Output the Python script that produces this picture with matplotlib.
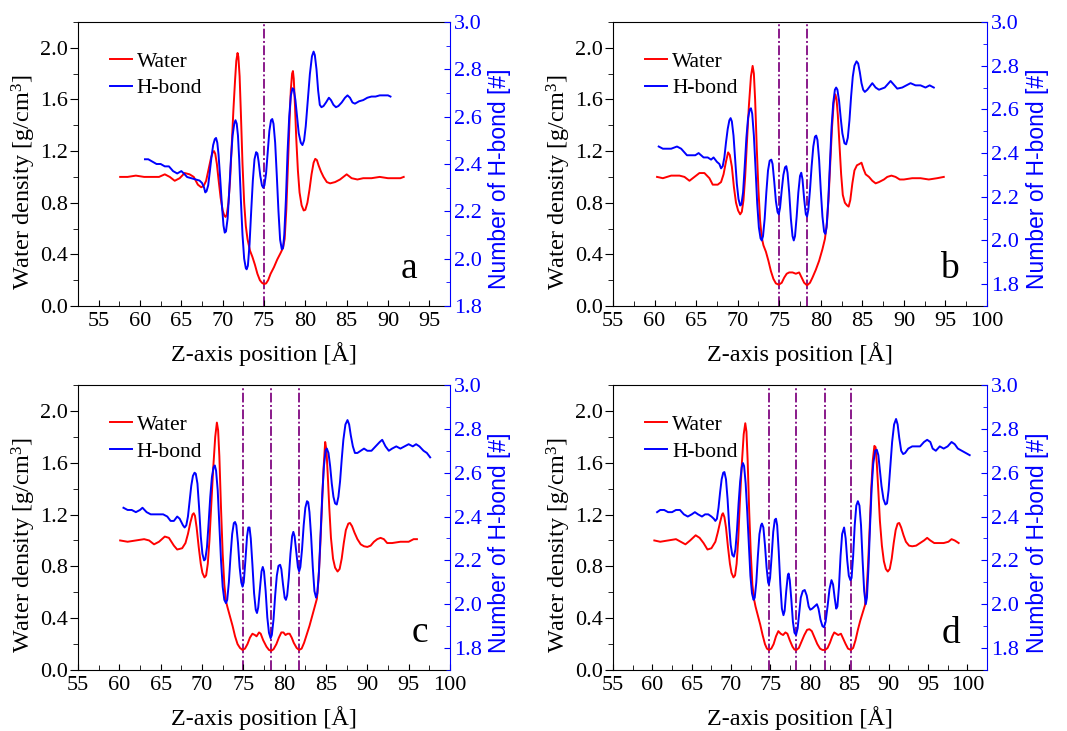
import matplotlib
matplotlib.use("Agg")
import matplotlib.pyplot as plt
from matplotlib.ticker import MultipleLocator

plt.rcParams['font.family'] = ['Liberation Serif', 'DejaVu Serif']
plt.rcParams['mathtext.fontset'] = 'custom'
plt.rcParams['mathtext.rm'] = 'Liberation Serif'
plt.rcParams['mathtext.it'] = 'Liberation Serif:italic'
plt.rcParams['mathtext.bf'] = 'Liberation Serif:bold'

# ---------------- panel a ----------------
a_water_z = [57.6, 58.5, 59.5, 60.5, 61.5, 62.3, 63.0, 63.6, 64.2, 64.8, 65.4, 66.0, 66.5,
             67.0, 67.4, 67.7, 68.0, 68.3, 68.6, 68.8, 68.95, 69.1, 69.3, 69.5, 69.75, 70.0,
             70.2, 70.35, 70.5, 70.7, 70.9, 71.1, 71.3, 71.5, 71.65, 71.8, 71.9, 72.05, 72.2,
             72.4, 72.6, 72.8, 73.0, 73.3, 73.6, 73.9, 74.2, 74.5, 74.75, 75.0, 75.25, 75.5,
             75.8, 76.2, 76.6, 77.0, 77.3, 77.5, 77.7, 77.9, 78.1, 78.25, 78.4, 78.5, 78.6,
             78.75, 78.9, 79.1, 79.3, 79.55, 79.8, 80.0, 80.25, 80.5, 80.75, 81.0, 81.2, 81.4,
             81.6, 81.9, 82.2, 82.6, 83.0, 83.6, 84.2, 84.6, 85.0, 85.6, 86.3, 87.0, 88.0,
             89.0, 90.0, 90.8, 91.5, 91.9]
a_water = [1.00, 1.00, 1.01, 1.00, 1.00, 1.00, 1.02, 1.00, 0.97, 0.99, 1.03, 1.02, 1.00,
           0.94, 0.92, 0.93, 0.97, 1.06, 1.15, 1.19, 1.20, 1.18, 1.10, 0.98, 0.84, 0.74,
           0.70, 0.69, 0.71, 0.80, 0.98, 1.25, 1.52, 1.75, 1.90, 1.96, 1.93, 1.78, 1.50,
           1.10, 0.80, 0.62, 0.52, 0.43, 0.38, 0.32, 0.25, 0.20, 0.18, 0.17, 0.175, 0.20,
           0.25, 0.30, 0.36, 0.41, 0.45, 0.52, 0.75, 1.10, 1.45, 1.68, 1.80, 1.82, 1.76,
           1.55, 1.30, 1.05, 0.88, 0.78, 0.74, 0.745, 0.80, 0.90, 1.02, 1.11, 1.14, 1.13,
           1.09, 1.04, 1.00, 0.96, 0.95, 0.96, 0.98, 1.00, 1.02, 0.99, 0.98, 0.99, 0.99,
           1.00, 0.99, 0.99, 0.99, 1.00]
a_hb_z = [60.6, 61.0, 61.5, 62.0, 62.5, 63.0, 63.5, 64.0, 64.5, 65.0, 65.3, 65.7, 66.2,
          66.7, 67.2, 67.5, 67.75, 67.9, 68.05, 68.25, 68.45, 68.65, 68.85, 69.05, 69.2,
          69.35, 69.5, 69.7, 69.9, 70.1, 70.25, 70.4, 70.6, 70.8, 71.0, 71.2, 71.4, 71.55,
          71.7, 71.85, 72.0, 72.2, 72.4, 72.6, 72.8, 72.9, 73.05, 73.25, 73.45, 73.65, 73.85,
          74.05, 74.2, 74.35, 74.55, 74.75, 74.9, 75.05, 75.25, 75.45, 75.65, 75.85, 76.0,
          76.15, 76.35, 76.55, 76.75, 76.95, 77.15, 77.3, 77.45, 77.65, 77.85, 78.05, 78.25,
          78.45, 78.6, 78.8, 79.0, 79.2, 79.45, 79.65, 79.85, 80.05, 80.3, 80.55, 80.8, 81.0,
          81.15, 81.35, 81.55, 81.75, 81.95, 82.2, 82.5, 82.85, 83.1, 83.4, 83.7, 84.0, 84.4,
          84.8, 85.1, 85.4, 85.7, 86.0, 86.5, 87.0, 87.5, 88.0, 88.5, 89.0, 89.5, 90.0, 90.3]
a_hb = [2.42, 2.42, 2.41, 2.40, 2.40, 2.39, 2.39, 2.37, 2.36, 2.37, 2.36, 2.345, 2.34,
        2.335, 2.33, 2.32, 2.30, 2.28, 2.285, 2.31, 2.37, 2.43, 2.48, 2.505, 2.51,
        2.49, 2.44, 2.34, 2.23, 2.14, 2.11, 2.115, 2.17, 2.29, 2.42, 2.52, 2.57, 2.585,
        2.57, 2.52, 2.42, 2.25, 2.10, 2.00, 1.96, 1.955, 1.97, 2.06, 2.20, 2.33, 2.42,
        2.45, 2.445, 2.41, 2.35, 2.31, 2.30, 2.31, 2.36, 2.45, 2.54, 2.585, 2.59,
        2.57, 2.49, 2.35, 2.20, 2.08, 2.04, 2.045, 2.10, 2.25, 2.45, 2.60, 2.69,
        2.72, 2.715, 2.67, 2.60, 2.53, 2.49, 2.48, 2.50, 2.56, 2.67, 2.78, 2.855, 2.875,
        2.86, 2.80, 2.71, 2.65, 2.64, 2.645, 2.66, 2.68, 2.67, 2.65, 2.64, 2.645, 2.66,
        2.68, 2.69, 2.68, 2.66, 2.655, 2.665, 2.67, 2.68, 2.685, 2.685, 2.69, 2.69, 2.69, 2.685]
a_pores = [75.0]

# ---------------- panel b ----------------
b_water_z = [60.3, 61.0, 62.0, 63.0, 63.6, 64.2, 64.8, 65.4, 66.0, 66.6, 67.0, 67.6, 68.0,
             68.3, 68.6, 68.85, 69.05, 69.3, 69.55, 69.8, 70.05, 70.3, 70.5, 70.7, 70.9, 71.1,
             71.35, 71.6, 71.8, 71.95, 72.1, 72.3, 72.5, 72.7, 72.9, 73.1, 73.4, 73.7, 74.0,
             74.3, 74.6, 74.95, 75.3, 75.6, 75.9, 76.2, 76.6, 77.0, 77.4, 77.7, 78.0, 78.35,
             78.7, 79.0, 79.4, 79.8, 80.2, 80.5, 80.75, 80.95, 81.15, 81.35, 81.55, 81.75,
             81.9, 82.05, 82.25, 82.45, 82.65, 82.9, 83.15, 83.35, 83.55, 83.8, 84.05, 84.35,
             84.65, 84.9, 85.15, 85.4, 85.8, 86.2, 86.6, 87.0, 87.6, 88.0, 88.5, 89.0, 89.5,
             90.0, 91.0, 92.0, 93.0, 94.0, 94.8]
b_water = [1.00, 0.99, 1.01, 1.01, 1.00, 0.97, 1.00, 1.03, 1.03, 0.99, 0.94, 0.94, 0.96,
           1.02, 1.12, 1.19, 1.17, 1.08, 0.92, 0.80, 0.74, 0.71, 0.73, 0.82, 1.00, 1.25,
           1.55, 1.78, 1.86, 1.80, 1.60, 1.22, 0.90, 0.66, 0.53, 0.47, 0.42, 0.35, 0.27,
           0.21, 0.175, 0.165, 0.18, 0.22, 0.25, 0.26, 0.26, 0.25, 0.26, 0.22, 0.18, 0.16,
           0.18, 0.22, 0.28, 0.35, 0.44, 0.52, 0.65, 0.85, 1.12, 1.38, 1.57, 1.64,
           1.60, 1.48, 1.25, 1.02, 0.86, 0.80, 0.78, 0.77, 0.82, 0.95, 1.05, 1.09,
           1.10, 1.11, 1.06, 1.02, 1.00, 0.97, 0.95, 0.96, 0.98, 1.00, 1.01, 1.00, 0.98,
           0.98, 0.99, 0.99, 0.98, 0.99, 1.00]
b_hb_z = [60.5, 61.0, 61.5, 62.0, 62.7, 63.2, 63.9, 64.4, 64.9, 65.3, 65.9, 66.4, 66.8,
          67.1, 67.5, 67.8, 68.0, 68.2, 68.4, 68.6, 68.8, 69.0, 69.15, 69.3, 69.5, 69.7,
          69.9, 70.1, 70.3, 70.45, 70.65, 70.85, 71.05, 71.25, 71.45, 71.6, 71.75, 71.95,
          72.15, 72.35, 72.55, 72.75, 72.9, 73.05, 73.25, 73.45, 73.65, 73.85, 74.05, 74.2,
          74.4, 74.6, 74.8, 74.95, 75.1, 75.3, 75.5, 75.7, 75.85, 76.0, 76.2, 76.4, 76.6,
          76.75, 76.9, 77.1, 77.3, 77.5, 77.65, 77.8, 78.0, 78.2, 78.35, 78.5, 78.7, 78.9,
          79.1, 79.3, 79.45, 79.6, 79.8, 80.0, 80.2, 80.4, 80.55, 80.7, 80.9, 81.1, 81.3,
          81.5, 81.7, 81.85, 82.0, 82.2, 82.4, 82.6, 82.85, 83.05, 83.25, 83.45, 83.65, 83.85,
          84.05, 84.3, 84.5, 84.7, 84.9, 85.1, 85.3, 85.6, 86.2, 86.6, 87.0, 87.7, 88.4,
          89.2, 89.8, 90.3, 90.8, 91.4, 92.0, 92.6, 93.1, 93.6]
b_hb = [2.43, 2.42, 2.42, 2.42, 2.43, 2.42, 2.39, 2.39, 2.39, 2.40, 2.38, 2.38, 2.37,
        2.38, 2.36, 2.35, 2.33, 2.34, 2.38, 2.45, 2.51, 2.55, 2.56, 2.545, 2.48, 2.37,
        2.26, 2.19, 2.16, 2.165, 2.22, 2.34, 2.47, 2.56, 2.60, 2.605, 2.58, 2.48,
        2.33, 2.17, 2.06, 2.01, 2.00, 2.02, 2.10, 2.22, 2.32, 2.365, 2.37, 2.35,
        2.27, 2.18, 2.13, 2.12, 2.15, 2.23, 2.30, 2.335, 2.34, 2.31, 2.22, 2.10, 2.02,
        2.00, 2.02, 2.11, 2.22, 2.295, 2.31, 2.28, 2.19, 2.12, 2.11, 2.14, 2.23, 2.34,
        2.43, 2.475, 2.48, 2.46, 2.37, 2.23, 2.11, 2.04, 2.03, 2.06, 2.18, 2.35, 2.52,
        2.63, 2.69, 2.70, 2.69, 2.64, 2.56, 2.49, 2.445, 2.44, 2.47, 2.55, 2.66, 2.75,
        2.80, 2.82, 2.81, 2.77, 2.72, 2.69, 2.68, 2.69, 2.72, 2.70, 2.69, 2.70, 2.73,
        2.695, 2.70, 2.71, 2.72, 2.71, 2.71, 2.70, 2.71, 2.70]
b_pores = [75.0, 78.35]

# ---------------- panel c ----------------
c_water_z = [60.1, 61.0, 62.0, 63.0, 63.6, 64.2, 64.8, 65.5, 66.0, 66.6, 67.0, 67.6, 68.0,
             68.3, 68.6, 68.85, 69.0, 69.15, 69.35, 69.6, 69.85, 70.05, 70.3, 70.5, 70.7,
             70.9, 71.1, 71.35, 71.6, 71.8, 71.95, 72.1, 72.3, 72.5, 72.7, 72.9, 73.1, 73.4,
             73.7, 74.0, 74.3, 74.6, 74.9, 75.2, 75.5, 75.8, 76.1, 76.4, 76.6, 76.9, 77.1,
             77.4, 77.8, 78.1, 78.35, 78.65, 79.0, 79.3, 79.6, 79.85, 80.1, 80.35, 80.6, 80.85,
             81.1, 81.45, 81.75, 82.05, 82.35, 82.7, 83.0, 83.3, 83.6, 83.9, 84.1, 84.3, 84.5,
             84.7, 84.9, 85.05, 85.2, 85.4, 85.6, 85.85, 86.1, 86.4, 86.65, 86.9, 87.15, 87.4,
             87.7, 87.9, 88.15, 88.45, 88.8, 89.2, 89.6, 90.0, 90.4, 90.8, 91.2, 91.6, 92.0,
             92.4, 93.0, 94.0, 95.0, 95.6, 96.0]
c_water = [1.00, 0.99, 1.00, 1.01, 1.00, 0.97, 0.99, 1.03, 1.02, 0.96, 0.93, 0.94, 0.98,
           1.05, 1.14, 1.20, 1.21, 1.19, 1.10, 0.95, 0.82, 0.75, 0.715, 0.73, 0.82,
           1.00, 1.25, 1.55, 1.80, 1.91, 1.85, 1.65, 1.25, 0.90, 0.66, 0.53, 0.48, 0.41,
           0.34, 0.26, 0.20, 0.17, 0.155, 0.165, 0.20, 0.25, 0.28, 0.27, 0.26, 0.29, 0.28,
           0.23, 0.18, 0.155, 0.148, 0.16, 0.20, 0.25, 0.29, 0.29, 0.27, 0.28, 0.28, 0.25,
           0.21, 0.17, 0.155, 0.165, 0.21, 0.28, 0.34, 0.41, 0.48, 0.55, 0.70, 0.95, 1.25,
           1.55, 1.76, 1.70, 1.52, 1.25, 1.02, 0.86, 0.79, 0.76, 0.78, 0.86, 0.98, 1.08,
           1.13, 1.135, 1.11, 1.06, 1.01, 0.97, 0.955, 0.95, 0.96, 0.99, 1.01, 1.02, 1.01,
           0.98, 0.98, 0.99, 0.99, 1.01, 1.01]
c_hb_z = [60.5, 61.0, 61.5, 62.0, 62.5, 62.8, 63.3, 63.8, 64.3, 64.8, 65.3, 65.8, 66.2,
          66.6, 67.0, 67.3, 67.7, 67.9, 68.1, 68.3, 68.5, 68.7, 68.9, 69.1, 69.25, 69.45,
          69.65, 69.85, 70.05, 70.25, 70.4, 70.6, 70.8, 71.0, 71.2, 71.4, 71.55, 71.7, 71.9,
          72.1, 72.3, 72.5, 72.7, 72.9, 73.05, 73.25, 73.45, 73.65, 73.85, 74.0, 74.15, 74.35,
          74.55, 74.75, 74.9, 75.05, 75.25, 75.45, 75.6, 75.75, 75.9, 76.1, 76.3, 76.5, 76.65,
          76.8, 77.0, 77.2, 77.35, 77.5, 77.7, 77.9, 78.1, 78.3, 78.45, 78.65, 78.85, 79.05,
          79.25, 79.45, 79.6, 79.8, 80.0, 80.15, 80.3, 80.5, 80.7, 80.9, 81.05, 81.2, 81.4,
          81.6, 81.75, 81.9, 82.1, 82.3, 82.5, 82.7, 82.85, 83.0, 83.2, 83.4, 83.6, 83.8,
          83.95, 84.15, 84.35, 84.55, 84.75, 84.95, 85.1, 85.3, 85.5, 85.7, 85.9, 86.1, 86.3,
          86.5, 86.7, 86.9, 87.1, 87.35, 87.6, 87.8, 88.0, 88.25, 88.5, 88.8, 89.2, 89.6,
          90.0, 90.5, 91.0, 91.5, 91.8, 92.2, 92.6, 93.0, 93.5, 94.0, 94.5, 95.0, 95.5, 95.9,
          96.3, 96.8, 97.2, 97.6]
c_hb = [2.44, 2.43, 2.43, 2.42, 2.43, 2.44, 2.42, 2.41, 2.41, 2.41, 2.41, 2.40, 2.38,
        2.38, 2.40, 2.39, 2.36, 2.35, 2.36, 2.40, 2.47, 2.54, 2.585, 2.60, 2.595, 2.55,
        2.44, 2.31, 2.23, 2.20, 2.205, 2.26, 2.37, 2.49, 2.58, 2.625, 2.633, 2.61, 2.52,
        2.36, 2.20, 2.08, 2.02, 2.005, 2.02, 2.10, 2.22, 2.32, 2.37, 2.375, 2.36, 2.28,
        2.17, 2.10, 2.08, 2.10, 2.20, 2.31, 2.35, 2.35, 2.30, 2.18, 2.05, 1.975, 1.96,
        1.985, 2.07, 2.15, 2.17, 2.15, 2.06, 1.94, 1.87, 1.845, 1.86, 1.93, 2.04, 2.13,
        2.175, 2.18, 2.16, 2.09, 2.03, 2.02, 2.04, 2.12, 2.23, 2.31, 2.33, 2.31, 2.24,
        2.17, 2.15, 2.17, 2.25, 2.36, 2.44, 2.47, 2.465, 2.42, 2.31, 2.17, 2.06, 2.03,
        2.05, 2.15, 2.32, 2.50, 2.63, 2.70, 2.71, 2.69, 2.63, 2.55, 2.49, 2.46, 2.455,
        2.49, 2.56, 2.66, 2.75, 2.82, 2.84, 2.82, 2.77, 2.72, 2.69, 2.69, 2.70, 2.71,
        2.70, 2.70, 2.72, 2.74, 2.75, 2.72, 2.70, 2.71, 2.72, 2.71, 2.72, 2.73, 2.72, 2.73,
        2.72, 2.70, 2.69, 2.67]
c_pores = [74.9, 78.35, 81.75]

# ---------------- panel d ----------------
d_water_z = [60.25, 61.0, 62.0, 63.0, 63.6, 64.2, 64.8, 65.5, 66.0, 66.5, 67.0, 67.5, 68.0,
             68.3, 68.6, 68.85, 68.97, 69.15, 69.35, 69.6, 69.85, 70.05, 70.3, 70.5, 70.7,
             70.9, 71.1, 71.35, 71.6, 71.8, 71.95, 72.1, 72.3, 72.5, 72.7, 72.9, 73.1, 73.4,
             73.7, 74.0, 74.3, 74.55, 74.8, 75.1, 75.4, 75.7, 76.0, 76.3, 76.6, 76.9, 77.15,
             77.45, 77.8, 78.05, 78.3, 78.6, 78.95, 79.3, 79.65, 79.95, 80.25, 80.6, 80.95,
             81.3, 81.6, 81.95, 82.25, 82.55, 82.85, 83.1, 83.35, 83.6, 83.95, 84.25, 84.55,
             84.85, 85.2, 85.5, 85.8, 86.1, 86.4, 86.7, 87.0, 87.2, 87.4, 87.6, 87.8, 88.0,
             88.2, 88.35, 88.5, 88.7, 88.9, 89.15, 89.4, 89.65, 89.9, 90.15, 90.4, 90.65,
             90.9, 91.15, 91.35, 91.6, 91.9, 92.2, 92.6, 93.0, 93.5, 94.0, 94.5, 94.9, 95.3,
             95.8, 96.3, 97.0, 97.6, 98.0, 98.4, 98.9]
d_water = [1.00, 0.99, 1.00, 1.01, 0.99, 0.97, 1.00, 1.04, 1.02, 0.98, 0.93, 0.94, 0.99,
           1.06, 1.14, 1.20, 1.21, 1.18, 1.10, 0.95, 0.82, 0.75, 0.715, 0.73, 0.82,
           1.00, 1.28, 1.58, 1.82, 1.905, 1.84, 1.62, 1.22, 0.90, 0.66, 0.55, 0.49, 0.42,
           0.35, 0.27, 0.20, 0.165, 0.155, 0.165, 0.20, 0.26, 0.30, 0.28, 0.27, 0.29, 0.28,
           0.23, 0.18, 0.158, 0.155, 0.17, 0.22, 0.27, 0.31, 0.315, 0.30, 0.25, 0.20,
           0.165, 0.155, 0.155, 0.17, 0.21, 0.26, 0.29, 0.28, 0.27, 0.28, 0.24, 0.20,
           0.165, 0.155, 0.17, 0.23, 0.31, 0.38, 0.44, 0.50, 0.60, 0.82, 1.10, 1.40, 1.62,
           1.73, 1.72, 1.60, 1.38, 1.15, 0.96, 0.84, 0.78, 0.76, 0.78, 0.86, 0.98,
           1.08, 1.13, 1.135, 1.10, 1.04, 0.99, 0.96, 0.955, 0.96, 0.98, 1.00, 1.02, 1.00,
           0.98, 0.98, 0.98, 0.99, 1.01, 1.00, 0.98]
d_hb_z = [60.6, 61.0, 61.5, 62.0, 62.5, 63.0, 63.5, 64.0, 64.5, 65.0, 65.4, 65.8, 66.3,
          66.7, 67.1, 67.5, 67.8, 68.0, 68.2, 68.4, 68.6, 68.8, 69.0, 69.15, 69.35, 69.55,
          69.75, 69.95, 70.15, 70.35, 70.55, 70.75, 70.95, 71.15, 71.35, 71.5, 71.65, 71.85,
          72.05, 72.25, 72.45, 72.65, 72.85, 73.0, 73.2, 73.4, 73.6, 73.8, 73.92, 74.1, 74.3,
          74.5, 74.7, 74.8, 74.95, 75.15, 75.35, 75.55, 75.7, 75.85, 76.05, 76.25, 76.45,
          76.65, 76.8, 77.0, 77.2, 77.3, 77.45, 77.65, 77.85, 78.05, 78.25, 78.45, 78.65,
          78.85, 79.1, 79.35, 79.6, 79.85, 80.05, 80.3, 80.6, 80.9, 81.1, 81.35, 81.6, 81.8,
          82.0, 82.25, 82.5, 82.75, 82.95, 83.15, 83.35, 83.5, 83.7, 83.9, 84.1, 84.35, 84.55,
          84.75, 84.95, 85.15, 85.3, 85.5, 85.7, 85.9, 86.1, 86.3, 86.5, 86.7, 86.9, 87.1,
          87.25, 87.45, 87.65, 87.85, 88.05, 88.3, 88.5, 88.7, 88.9, 89.1, 89.35, 89.6, 89.8,
          90.0, 90.2, 90.45, 90.7, 90.95, 91.15, 91.35, 91.6, 91.85, 92.1, 92.5, 93.0, 93.5,
          94.0, 94.5, 94.9, 95.3, 95.6, 96.0, 96.5, 97.0, 97.5, 98.0, 98.4, 98.8, 99.3, 99.8,
          100.3]
d_hb = [2.42, 2.43, 2.43, 2.42, 2.42, 2.43, 2.43, 2.41, 2.40, 2.41, 2.42, 2.41, 2.40,
        2.41, 2.41, 2.40, 2.39, 2.38, 2.39, 2.44, 2.51, 2.57, 2.60, 2.603, 2.57, 2.48,
        2.36, 2.27, 2.225, 2.217, 2.25, 2.34, 2.46, 2.56, 2.625, 2.644, 2.63, 2.55,
        2.42, 2.27, 2.13, 2.05, 2.02, 2.03, 2.10, 2.22, 2.32, 2.36, 2.368, 2.35, 2.27,
        2.17, 2.10, 2.09, 2.12, 2.22, 2.33, 2.385, 2.39, 2.36, 2.24, 2.09, 1.98,
        1.95, 1.97, 2.06, 2.13, 2.14, 2.11, 2.02, 1.92, 1.87, 1.86, 1.89, 1.96,
        2.03, 2.06, 2.065, 2.04, 1.99, 1.975, 1.98, 1.99, 2.00, 1.98, 1.93, 1.90, 1.895,
        1.92, 1.99, 2.07, 2.11, 2.09, 2.03, 1.98, 1.99, 2.08, 2.22, 2.32, 2.35, 2.30,
        2.20, 2.13, 2.11, 2.12, 2.22, 2.36, 2.45, 2.47, 2.45, 2.36, 2.20, 2.06, 2.00,
        2.03, 2.17, 2.36, 2.53, 2.64, 2.70, 2.705, 2.68, 2.61, 2.54, 2.48, 2.455, 2.46,
        2.52, 2.62, 2.74, 2.82, 2.845, 2.82, 2.76, 2.70, 2.685, 2.69, 2.71, 2.72, 2.72,
        2.72, 2.74, 2.75, 2.74, 2.71, 2.70, 2.72, 2.71, 2.72, 2.74, 2.73, 2.71, 2.70, 2.69,
        2.68]
d_pores = [74.8, 78.25, 81.9, 85.2]

panels = [
    dict(tag='a', wz=a_water_z, w=a_water, hz=a_hb_z, h=a_hb, pores=a_pores,
         xlim=(52.5, 97.5), xmax_tick=95, hlim=(1.8, 3.0),
         rect=[78, 22, 450, 306], tagpos=(0.89, 0.10)),
    dict(tag='b', wz=b_water_z, w=b_water, hz=b_hb_z, h=b_hb, pores=b_pores,
         xlim=(55, 100), xmax_tick=100, hlim=(1.7, 3.0),
         rect=[613, 22, 987, 306], tagpos=(0.90, 0.10)),
    dict(tag='c', wz=c_water_z, w=c_water, hz=c_hb_z, h=c_hb, pores=c_pores,
         xlim=(55, 100), xmax_tick=100, hlim=(1.7, 3.0),
         rect=[78, 385, 450, 670], tagpos=(0.92, 0.10)),
    dict(tag='d', wz=d_water_z, w=d_water, hz=d_hb_z, h=d_hb, pores=d_pores,
         xlim=(55, 102.5), xmax_tick=100, hlim=(1.7, 3.0),
         rect=[613, 385, 987, 670], tagpos=(0.905, 0.095)),
]

W, H = 1067, 731
fig = plt.figure(figsize=(W / 100, H / 100), dpi=100)

TICK_FS = 16
LABEL_FS = 17.5
LEGEND_FS = 15.5
PURPLE = '#8a1a8a'
DASHDOT = (0, (5, 1.3, 1.0, 1.3))

for p in panels:
    l, t, r, b = p['rect']
    ax = fig.add_axes([l / W, 1 - b / H, (r - l) / W, (b - t) / H])
    ax2 = ax.twinx()

    # Water density on the left axis
    lw_, = ax.plot(p['wz'], p['w'], color='red', lw=1.4, label='Water',
                   solid_joinstyle='round')
    for z in p['pores']:
        ax.axvline(z, color=PURPLE, lw=1.4, ls=DASHDOT, zorder=1)
    ax.set_xlim(*p['xlim'])
    ax.set_ylim(0, 2.2)
    ax.set_xticks(list(range(55, p['xmax_tick'] + 1, 5)))
    ax.xaxis.set_minor_locator(MultipleLocator(2.5))
    ax.set_yticks([0.0, 0.4, 0.8, 1.2, 1.6, 2.0])
    ax.yaxis.set_minor_locator(MultipleLocator(0.2))
    ax.tick_params(axis='x', which='both', direction='in', labelsize=TICK_FS, pad=4,
                   top=False)
    ax.tick_params(axis='x', which='major', length=4.5)
    ax.tick_params(axis='x', which='minor', length=3.5)
    ax.tick_params(axis='y', which='both', direction='out', labelsize=TICK_FS, pad=1)
    ax.tick_params(axis='y', which='major', length=6)
    ax.tick_params(axis='y', which='minor', length=3.5)
    ax.set_xlabel('Z-axis position [Å]', fontsize=LABEL_FS, labelpad=8)
    ax.set_ylabel('Water density [g/cm$^{3}$]', fontsize=LABEL_FS)
    ax.yaxis.set_label_coords(-0.107, 0.437)
    ax.spines['right'].set_visible(False)

    # Hydrogen-bond count on the right axis
    hb_, = ax2.plot(p['hz'], p['h'], color='blue', lw=1.4, label='H-bond',
                    solid_joinstyle='round')
    ax2.set_ylim(*p['hlim'])
    ax2.set_yticks([1.8, 2.0, 2.2, 2.4, 2.6, 2.8, 3.0])
    ax2.yaxis.set_minor_locator(MultipleLocator(0.1))
    ax2.tick_params(axis='y', which='both', direction='in', colors='blue',
                    labelsize=TICK_FS, pad=3)
    ax2.tick_params(axis='y', which='major', length=4.5)
    ax2.tick_params(axis='y', which='minor', length=3)
    ax2.spines['right'].set_color('blue')
    for s in ('left', 'top', 'bottom'):
        ax2.spines[s].set_visible(False)
    ax2.set_ylabel('Number of H-bond [#]', color='blue', fontsize=16.5,
                   family=['Liberation Sans', 'DejaVu Sans'])
    ax2.yaxis.set_label_coords(1.103, 0.447)

    ax2.legend(handles=[lw_, hb_], loc='upper left', bbox_to_anchor=(0.086, 0.895),
               frameon=False, fontsize=LEGEND_FS, handlelength=1.0, handletextpad=0.25,
               labelspacing=0.3, borderaxespad=0, borderpad=0)

    ax2.text(p['tagpos'][0], p['tagpos'][1], p['tag'], transform=ax2.transAxes,
             fontsize=27, ha='center', va='baseline')

fig.savefig('out.png', dpi=100)
